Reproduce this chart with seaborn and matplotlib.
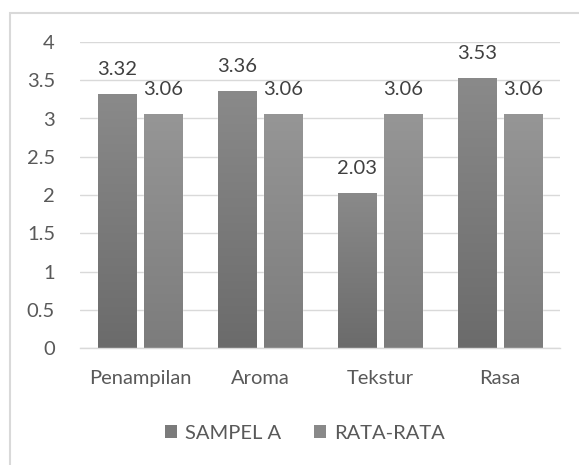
import numpy as np
import pandas as pd
import matplotlib
matplotlib.use("Agg")
import matplotlib.pyplot as plt
from matplotlib.patches import Rectangle, Patch
from matplotlib.colors import LinearSegmentedColormap
import seaborn as sns

categories = ["Penampilan", "Aroma", "Tekstur", "Rasa"]
series_names = ["SAMPEL A", "RATA-RATA"]
sampel_a = [3.32, 3.36, 2.03, 3.53]
rata_rata = [3.06, 3.06, 3.06, 3.06]
y_ticks = [0, 0.5, 1, 1.5, 2, 2.5, 3, 3.5, 4]

df = pd.DataFrame({
    "kategori": categories * 2,
    "seri": [series_names[0]] * len(categories) + [series_names[1]] * len(categories),
    "nilai": sampel_a + rata_rata,
})

sns.set_style("white")
plt.rcParams["font.family"] = ["Lato", "DejaVu Sans"]

text_col = "#595959"
grid_col = "#d9d9d9"
fs = 14.5
# bottom -> top colours of each bar's vertical gradient
grads = {
    series_names[0]: ("#6b6b6b", "#8a8a8a"),
    series_names[1]: ("#7c7c7c", "#969696"),
}

fig = plt.figure(figsize=(5.79, 4.65), dpi=100)
ax = fig.add_axes([80 / 579, 1 - 348 / 465, 480 / 579, 306 / 465])

sns.barplot(data=df, x="kategori", y="nilai", hue="seri", order=categories,
            hue_order=series_names, width=0.767, gap=0.17,
            palette=[grads[s][0] for s in series_names], legend=False, ax=ax,
            zorder=2)

ax.set_ylim(0, 4)
ax.set_yticks(y_ticks)
ax.set_yticklabels([f"{t:g}" for t in y_ticks])
ax.set_xlim(-0.5, len(categories) - 0.5)
ax.grid(axis="y", color=grid_col, linewidth=1.0, zorder=0)
ax.set_axisbelow(True)
for s in ["top", "right", "left"]:
    ax.spines[s].set_visible(False)
ax.spines["bottom"].set_color(grid_col)
ax.spines["bottom"].set_linewidth(1.0)
ax.tick_params(axis="both", length=0, labelsize=fs, labelcolor=text_col)
ax.tick_params(axis="x", pad=16)
ax.tick_params(axis="y", pad=18)
ax.set_xlabel("")
ax.set_ylabel("")

# vertical gradient fill clipped to each bar, plus value labels
for container, name in zip(ax.containers, series_names):
    cmap = LinearSegmentedColormap.from_list(name, list(grads[name]))
    for bar in container:
        x0, y0 = bar.get_x(), bar.get_y()
        w, h = bar.get_width(), bar.get_height()
        img = ax.imshow(np.linspace(0, 1, 256).reshape(-1, 1), cmap=cmap,
                        origin="lower", aspect="auto",
                        extent=(x0, x0 + w, y0, y0 + h), zorder=2.5)
        img.set_clip_path(bar)
        ax.annotate(f"{h:.2f}", (x0 + w / 2, h), xytext=(0, 11.5),
                    textcoords="offset points", ha="center", va="bottom",
                    fontsize=fs, color="#404040")
ax.set_xlim(-0.5, len(categories) - 0.5)
ax.set_ylim(0, 4)

handles = [Patch(facecolor="#7b7b7b", edgecolor="none"),
           Patch(facecolor="#898989", edgecolor="none")]
fig.legend(handles, series_names, loc="center", bbox_to_anchor=(305 / 579, 1 - 433 / 465),
           ncol=2, frameon=False, fontsize=fs, labelcolor=text_col,
           handlelength=0.6, handleheight=0.6, handletextpad=0.4, columnspacing=1.6)

# chart area border
fig.patches.append(Rectangle((9.5 / 579, -0.05), 1.2, 1 - 13 / 465 + 0.05,
                             transform=fig.transFigure, fill=False,
                             edgecolor=grid_col, linewidth=1.5))

fig.savefig("out.png", dpi=100)
